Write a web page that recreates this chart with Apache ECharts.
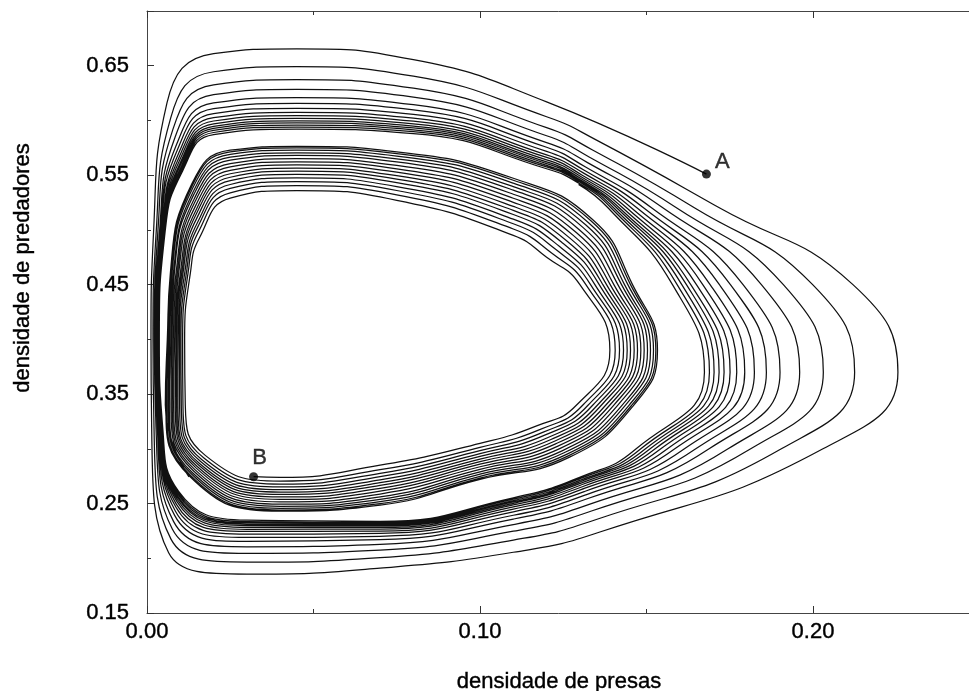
<!DOCTYPE html>
<html>
<head>
<meta charset="utf-8">
<title>densidade de presas / predadores</title>
<script src="https://cdn.jsdelivr.net/npm/echarts@6/dist/echarts.min.js"></script>
<style>
  html, body { margin: 0; padding: 0; background: #fff; }
  #chart { width: 969px; height: 691px; }
</style>
</head>
<body>
<div id="chart"></div>
<script>
// readings, one value per turn of the spiral,
// along fixed "rays" (a vertical line x = const, a horizontal line y = const,
// or a corner where the crossing is kept as an [x, y] pair)

// ---- outer spiral, starts at A and winds inwards (15 turns)
var pointA = [0.168, 0.551];
// top branch, y read at x = 0.12, 0.08, 0.045, 0.02
var outerT1 = [0.617, 0.6034, 0.5934, 0.586, 0.5798, 0.5755, 0.5717, 0.5686, 0.5662, 0.564, 0.5621, 0.5606, 0.559, 0.5575, 0.5559];
var outerT2 = [0.6555, 0.6404, 0.6295, 0.6213, 0.6144, 0.6096, 0.6055, 0.6021, 0.5993, 0.5969, 0.5949, 0.5932, 0.5915, 0.5897, 0.588];
var outerT3 = [0.6655, 0.6491, 0.6372, 0.6283, 0.6208, 0.6156, 0.6111, 0.6074, 0.6044, 0.6018, 0.5996, 0.5977, 0.5958, 0.594, 0.5921];
var outerT4 = [0.661, 0.6445, 0.6325, 0.6235, 0.616, 0.6108, 0.6063, 0.6025, 0.5995, 0.5969, 0.5946, 0.5928, 0.5909, 0.589, 0.5871];
// upper left corner [x, y]
var outerTL = [[0.006, 0.616], [0.0071, 0.6021], [0.0078, 0.5921], [0.0084, 0.5845], [0.0089, 0.5782], [0.0092, 0.5738], [0.0095, 0.57], [0.0097, 0.5669], [0.0099, 0.5643], [0.0101, 0.5621], [0.0102, 0.5602], [0.0104, 0.5587], [0.0105, 0.5571], [0.0106, 0.5555], [0.0107, 0.5539]];
// left branch, x read at y = 0.50, 0.40, 0.32
var outerL1 = [0.002, 0.0028, 0.0033, 0.0038, 0.0041, 0.0043, 0.0046, 0.0047, 0.0049, 0.005, 0.0051, 0.0052, 0.0053, 0.0054, 0.0055];
var outerL2 = [0.0012, 0.0018, 0.0022, 0.0025, 0.0027, 0.0029, 0.003, 0.0032, 0.0033, 0.0033, 0.0034, 0.0035, 0.0035, 0.0036, 0.0037];
var outerL3 = [0.0014, 0.0021, 0.0027, 0.0031, 0.0034, 0.0037, 0.0039, 0.0041, 0.0042, 0.0043, 0.0044, 0.0045, 0.0046, 0.0047, 0.0047];
// lower left corner [x, y]
var outerBL = [[0.0065, 0.205], [0.0072, 0.2175], [0.0076, 0.2267], [0.008, 0.2335], [0.0083, 0.2392], [0.0085, 0.2432], [0.0087, 0.2466], [0.0088, 0.2495], [0.009, 0.2517], [0.0091, 0.2537], [0.0092, 0.2554], [0.0092, 0.2569], [0.0093, 0.2583], [0.0094, 0.2597], [0.0095, 0.2611]];
// bottom branch, y read at x = 0.03, 0.07, 0.11
var outerB1 = [0.1855, 0.1965, 0.2045, 0.2105, 0.2155, 0.219, 0.222, 0.2245, 0.2265, 0.2283, 0.2298, 0.231, 0.2323, 0.2335, 0.2348];
var outerB2 = [0.191, 0.2006, 0.2075, 0.2128, 0.2171, 0.2201, 0.2228, 0.2249, 0.2267, 0.2282, 0.2295, 0.2306, 0.2317, 0.2328, 0.2338];
var outerB3 = [0.2055, 0.2166, 0.2247, 0.2308, 0.2358, 0.2393, 0.2424, 0.2449, 0.2469, 0.2487, 0.2502, 0.2515, 0.2527, 0.254, 0.2552];
// lower right [x, y], read across the bundle
var outerBR = [[0.136, 0.224], [0.1347, 0.2352], [0.1337, 0.2434], [0.133, 0.2495], [0.1324, 0.2546], [0.132, 0.2582], [0.1316, 0.2612], [0.1313, 0.2638], [0.1311, 0.2658], [0.1309, 0.2676], [0.1307, 0.2691], [0.1305, 0.2704], [0.1304, 0.2717], [0.1302, 0.273], [0.1301, 0.2742]];
// right branch, x read at y = 0.30, 0.37, 0.45, 0.52
var outerR1 = [0.203, 0.1905, 0.1813, 0.1745, 0.1688, 0.1648, 0.1614, 0.1585, 0.1563, 0.1543, 0.1526, 0.1511, 0.1497, 0.1483, 0.1469];
var outerR2 = [0.2255, 0.2125, 0.2031, 0.196, 0.1901, 0.186, 0.1824, 0.1795, 0.1771, 0.1751, 0.1733, 0.1718, 0.1703, 0.1689, 0.1674];
var outerR3 = [0.212, 0.1999, 0.1911, 0.1845, 0.179, 0.1752, 0.1719, 0.1691, 0.1669, 0.165, 0.1633, 0.162, 0.1606, 0.1592, 0.1578];
var outerR4 = [0.172, 0.1645, 0.1591, 0.155, 0.1516, 0.1492, 0.1472, 0.1455, 0.1441, 0.1429, 0.1419, 0.1411, 0.1402, 0.1394, 0.1385];
// upper right shoulder [x, y], read across the bundle
var outerTR = [[0.135, 0.582], [0.1338, 0.573], [0.1329, 0.5664], [0.1323, 0.5615], [0.1317, 0.5574], [0.1313, 0.5545], [0.131, 0.5521], [0.1307, 0.55], [0.1305, 0.5484], [0.1303, 0.5469], [0.1301, 0.5457], [0.13, 0.5447], [0.1299, 0.5437], [0.1297, 0.5426], [0.1296, 0.5416]];

// ---- inner spiral, starts at B and winds outwards (15 turns)
var pointB = [0.032, 0.2745];
// bottom branch, y read at x = 0.04, 0.07, 0.10
var innerB1 = [0.274, 0.2705, 0.2677, 0.2652, 0.2627, 0.2605, 0.2583, 0.256, 0.2538, 0.2516, 0.2494, 0.2475, 0.2457, 0.2441, 0.243];
var innerB2 = [0.285, 0.2809, 0.2776, 0.2746, 0.2717, 0.2691, 0.2665, 0.2639, 0.2613, 0.2587, 0.2561, 0.2539, 0.2517, 0.2499, 0.2486];
var innerB3 = [0.305, 0.3013, 0.2983, 0.2956, 0.293, 0.2906, 0.2883, 0.286, 0.2836, 0.2813, 0.2789, 0.2769, 0.2749, 0.2733, 0.2721];
// lower right corner [x, y]
var innerBR = [[0.117, 0.321], [0.1181, 0.3178], [0.119, 0.3152], [0.1198, 0.3129], [0.1206, 0.3106], [0.1213, 0.3085], [0.122, 0.3065], [0.1227, 0.3045], [0.1234, 0.3024], [0.1241, 0.3004], [0.1248, 0.2984], [0.1254, 0.2966], [0.126, 0.2949], [0.1265, 0.2935], [0.1269, 0.2924]];
// right branch, x read at y = 0.34, 0.39, 0.45
var innerR1 = [0.129, 0.1309, 0.1325, 0.1339, 0.1353, 0.1365, 0.1378, 0.139, 0.1402, 0.1414, 0.1427, 0.1437, 0.1448, 0.1456, 0.1462];
var innerR2 = [0.139, 0.1406, 0.1419, 0.1431, 0.1442, 0.1452, 0.1463, 0.1473, 0.1483, 0.1493, 0.1503, 0.1512, 0.1521, 0.1528, 0.1533];
var innerR3 = [0.13, 0.1318, 0.1332, 0.1345, 0.1358, 0.1369, 0.138, 0.1391, 0.1402, 0.1414, 0.1425, 0.1434, 0.1444, 0.1452, 0.1458];
// upper right shoulder [x, y]
var innerTR = [[0.12, 0.475], [0.1215, 0.4789], [0.1228, 0.482], [0.1239, 0.4848], [0.125, 0.4876], [0.126, 0.49], [0.127, 0.4925], [0.128, 0.495], [0.129, 0.4974], [0.1299, 0.4999], [0.1309, 0.5023], [0.1318, 0.5044], [0.1326, 0.5065], [0.1333, 0.5083], [0.1338, 0.5095]];
// top branch, y read at x = 0.11, 0.075, 0.045, 0.025
var innerT1 = [0.495, 0.5008, 0.5056, 0.5098, 0.5141, 0.5178, 0.5215, 0.5252, 0.5289, 0.5326, 0.5363, 0.5395, 0.5427, 0.5454, 0.5472];
var innerT2 = [0.527, 0.532, 0.536, 0.5396, 0.5432, 0.5464, 0.5495, 0.5527, 0.5558, 0.5589, 0.5621, 0.5648, 0.5675, 0.5698, 0.5713];
var innerT3 = [0.536, 0.5405, 0.5442, 0.5475, 0.5508, 0.5536, 0.5565, 0.5594, 0.5622, 0.5651, 0.568, 0.5704, 0.5729, 0.575, 0.5764];
var innerT4 = [0.529, 0.5339, 0.5379, 0.5415, 0.545, 0.5481, 0.5513, 0.5544, 0.5575, 0.5606, 0.5637, 0.5664, 0.569, 0.5713, 0.5728];
// upper left corner [x, y]
var innerTL = [[0.0158, 0.493], [0.0155, 0.4985], [0.0153, 0.503], [0.0152, 0.507], [0.015, 0.511], [0.0148, 0.5145], [0.0147, 0.518], [0.0145, 0.5215], [0.0143, 0.525], [0.0142, 0.5285], [0.014, 0.532], [0.0139, 0.535], [0.0137, 0.538], [0.0136, 0.5405], [0.0135, 0.5423]];
// left branch, x read at y = 0.46, 0.40, 0.34
var innerL1 = [0.013, 0.0123, 0.0118, 0.0113, 0.0108, 0.0104, 0.01, 0.0095, 0.0091, 0.0087, 0.0082, 0.0079, 0.0075, 0.0072, 0.007];
var innerL2 = [0.0113, 0.0107, 0.0102, 0.0098, 0.0094, 0.009, 0.0087, 0.0083, 0.0079, 0.0075, 0.0072, 0.0068, 0.0065, 0.0063, 0.0061];
var innerL3 = [0.0115, 0.0108, 0.0103, 0.0098, 0.0093, 0.0089, 0.0085, 0.008, 0.0076, 0.0072, 0.0067, 0.0064, 0.006, 0.0057, 0.0055];
// lower left corner [x, y]
var innerBL = [[0.0175, 0.294], [0.017, 0.2918], [0.0165, 0.29], [0.0161, 0.2884], [0.0157, 0.2868], [0.0154, 0.2854], [0.015, 0.284], [0.0147, 0.2826], [0.0143, 0.2812], [0.014, 0.2798], [0.0136, 0.2784], [0.0133, 0.2772], [0.013, 0.276], [0.0128, 0.275], [0.0126, 0.2743]];

// axis ticks
var xTicks = [0.0, 0.1, 0.2];
var yTicks = [0.15, 0.25, 0.35, 0.45, 0.55, 0.65];

// rays in the order the curve passes them (counter clockwise)
// 'x': vertical line at value v, 'y': horizontal line at v, 'p': point pairs
var outerRays = [
  { at: "x", v: 0.12, data: outerT1 },
  { at: "x", v: 0.08, data: outerT2 },
  { at: "x", v: 0.045, data: outerT3 },
  { at: "x", v: 0.02, data: outerT4 },
  { at: "p", data: outerTL },
  { at: "y", v: 0.5, data: outerL1 },
  { at: "y", v: 0.4, data: outerL2 },
  { at: "y", v: 0.32, data: outerL3 },
  { at: "p", data: outerBL },
  { at: "x", v: 0.03, data: outerB1 },
  { at: "x", v: 0.07, data: outerB2 },
  { at: "x", v: 0.11, data: outerB3 },
  { at: "p", data: outerBR },
  { at: "y", v: 0.3, data: outerR1 },
  { at: "y", v: 0.37, data: outerR2 },
  { at: "y", v: 0.45, data: outerR3 },
  { at: "y", v: 0.52, data: outerR4 },
  { at: "p", data: outerTR }
];
var innerRays = [
  { at: "x", v: 0.04, data: innerB1 },
  { at: "x", v: 0.07, data: innerB2 },
  { at: "x", v: 0.1, data: innerB3 },
  { at: "p", data: innerBR },
  { at: "y", v: 0.34, data: innerR1 },
  { at: "y", v: 0.39, data: innerR2 },
  { at: "y", v: 0.45, data: innerR3 },
  { at: "p", data: innerTR },
  { at: "x", v: 0.11, data: innerT1 },
  { at: "x", v: 0.075, data: innerT2 },
  { at: "x", v: 0.045, data: innerT3 },
  { at: "x", v: 0.025, data: innerT4 },
  { at: "p", data: innerTL },
  { at: "y", v: 0.46, data: innerL1 },
  { at: "y", v: 0.4, data: innerL2 },
  { at: "y", v: 0.34, data: innerL3 },
  { at: "p", data: innerBL }
];

// put the readings together as one continuous path
function spiral(start, rays) {
  var pts = [start];
  var turns = rays[0].data.length;
  for (var k = 0; k < turns; k++) {
    rays.forEach(function (r) {
      if (r.at === "x") pts.push([r.v, r.data[k]]);
      else if (r.at === "y") pts.push([r.data[k], r.v]);
      else pts.push(r.data[k]);
    });
  }
  return pts;
}

var FONT = "'Liberation Sans', Arial, Helvetica, sans-serif";
// the scan makes the lettering a bit heavy
var labelText = { color: "#000", fontSize: 22, fontFamily: FONT, textBorderColor: "#000", textBorderWidth: 0.4 };

function xAxisCfg(pos, showLabels) {
  return {
    type: "value",
    position: pos,
    min: 0,
    max: 0.3,
    interval: 0.1,
    axisLine: { onZero: false, lineStyle: { color: "#444", width: 1 } },
    axisTick: { inside: true, length: 7, lineStyle: { color: "#333" } },
    minorTick: { show: true, splitNumber: 2, length: 4, lineStyle: { color: "#333" } },
    splitLine: { show: false },
    axisLabel: Object.assign({
      show: showLabels,
      margin: 8,
      formatter: function (v) {
        return xTicks.some(function (t) { return Math.abs(t - v) < 1e-6; }) ? v.toFixed(2) : "";
      }
    }, labelText)
  };
}

var myChart = echarts.init(document.getElementById("chart"));
myChart.setOption({
  animation: false,
  backgroundColor: "#fff",
  // x runs past the right edge of the picture (0.30 sits outside)
  grid: { left: 147, top: 11, width: 999, height: 602, outerBoundsMode: "none" },
  xAxis: [xAxisCfg("bottom", true), xAxisCfg("top", false)],
  yAxis: {
    type: "value",
    min: 0.15,
    max: 0.7,
    interval: 0.1,
    axisLine: { show: true, onZero: false, lineStyle: { color: "#444", width: 1 } },
    axisTick: { show: true, inside: true, length: 7, lineStyle: { color: "#333" } },
    minorTick: { show: true, splitNumber: 2, length: 4, lineStyle: { color: "#333" } },
    splitLine: { show: false },
    axisLabel: Object.assign({
      margin: 18,
      formatter: function (v) {
        return yTicks.some(function (t) { return Math.abs(t - v) < 1e-6; }) ? v.toFixed(2) : "";
      }
    }, labelText)
  },
  graphic: [
    {
      type: "text",
      x: 559,
      y: 682,
      style: { text: "densidade de presas", font: "22px " + FONT, fill: "#000", stroke: "#000", lineWidth: 0.4, textAlign: "center", textVerticalAlign: "middle" }
    },
    {
      type: "text",
      x: 23,
      y: 268,
      rotation: Math.PI / 2,
      style: { text: "densidade de predadores", font: "22px " + FONT, fill: "#000", stroke: "#000", lineWidth: 0.4, textAlign: "center", textVerticalAlign: "middle" }
    }
  ],
  series: [
    {
      name: "fora",
      type: "line",
      data: spiral(pointA, outerRays),
      smooth: 0.5,
      showSymbol: false,
      silent: true,
      lineStyle: { color: "#111", width: 1.25 }
    },
    {
      name: "dentro",
      type: "line",
      data: spiral(pointB, innerRays),
      smooth: 0.5,
      showSymbol: false,
      silent: true,
      lineStyle: { color: "#111", width: 1.25 }
    },
    {
      // pontos iniciais A e B
      type: "scatter",
      symbolSize: 9,
      itemStyle: { color: "#000" },
      silent: true,
      z: 5,
      label: Object.assign({ show: true }, labelText),
      data: [
        { value: pointA, name: "A", label: { formatter: "A", position: "right", distance: 4, offset: [0, -12] } },
        { value: pointB, name: "B", label: { formatter: "B", position: "top", distance: 3, offset: [6, 0] } }
      ]
    }
  ]
});
</script>
</body>
</html>
